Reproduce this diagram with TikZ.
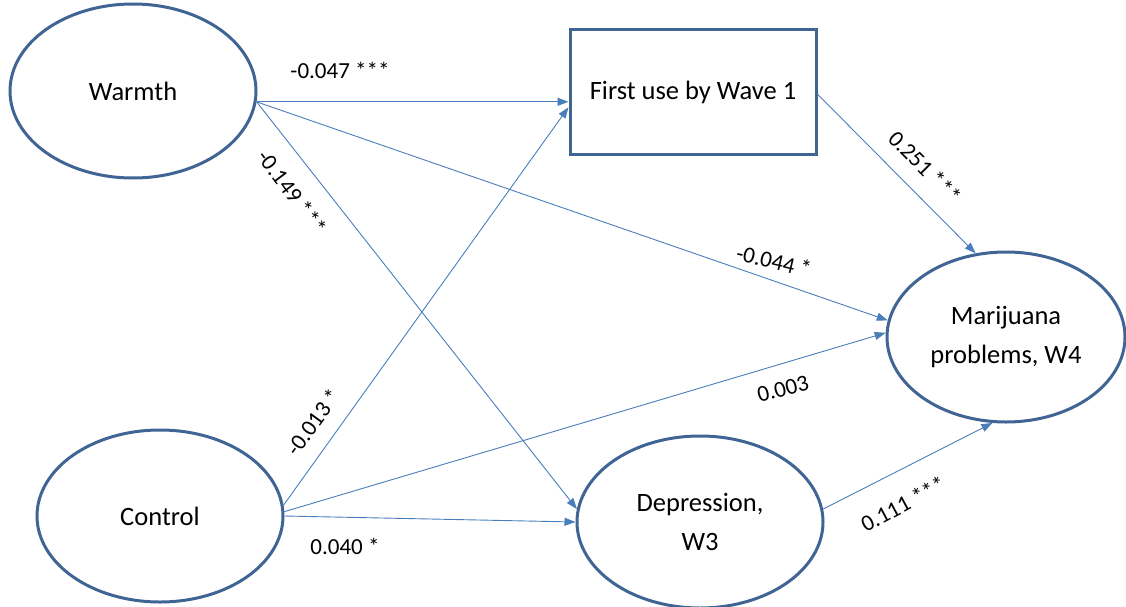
\documentclass[tikz,border=0pt]{standalone}
\usepackage{fontspec}
\setmainfont{Carlito}
\usetikzlibrary{shapes.geometric,arrows.meta}
\definecolor{nodeblue}{RGB}{64,100,148}
\definecolor{edgeblue}{RGB}{74,126,187}
\begin{document}
\begin{tikzpicture}[x=1pt,y=-1pt,
  oval/.style={ellipse, draw=nodeblue, line width=3pt, inner sep=0pt, align=center,
    font=\fontsize{26.5}{39}\selectfont},
  boxnode/.style={rectangle, draw=nodeblue, line width=3pt, inner sep=0pt, align=center,
    minimum width=246pt, minimum height=124pt, font=\fontsize{26.5}{39}\selectfont},
  edge/.style={draw=edgeblue, line width=0.9pt, -{Triangle[length=11pt,width=8pt,fill=edgeblue]}},
  lab/.style={inner sep=0pt, font=\fontsize{23}{27}\selectfont}]
\useasboundingbox (0,0) rectangle (1126,607);
\node[oval, minimum width=246pt, minimum height=174pt] (warmth) at (133,91) {Warmth};
\node[oval, minimum width=246pt, minimum height=172pt] (control) at (160,516) {Control};
\node[boxnode] (box) at (693,92) {First use by Wave 1};
\node[oval, minimum width=238pt, minimum height=170pt] (mari) at (1006,337) {Marijuana\\problems, W4};
\node[oval, minimum width=246pt, minimum height=172pt] (dep) at (700,522) {Depression,\\W3};

\draw[edge] (warmth.-5) -- (warmth.-5 -| box.west);
\draw[edge] (warmth.-5) -- (mari.172);
\draw[edge] (warmth.-5) -- (dep.174);
\draw[edge] (control.5) -- (box.187);
\draw[edge] (control.2) -- (mari.178);
\draw[edge] (control.east) -- (dep.west);
\draw[edge] (box.-1) -- (mari.110);
\draw[edge] (dep.6) -- (mari.-99);

\node[lab] (l1) at (340,70) {-0.047 ***};
\node[lab, rotate=-53] (l2) at (292,192) {-0.149 ***};
\node[lab, rotate=-13] (l3) at (774,261) {-0.044 *};
\node[lab, rotate=15] (l4) at (783,389) {0.003};
\node[lab, rotate=54] (l5) at (313,422) {-0.013 *};
\node[lab] (l6) at (345,546) {0.040 *};
\node[lab, rotate=-45] (l7) at (925,167) {0.251 ***};
\node[lab, rotate=28] (l8) at (903,504) {0.111 ***};
\end{tikzpicture}
\end{document}
